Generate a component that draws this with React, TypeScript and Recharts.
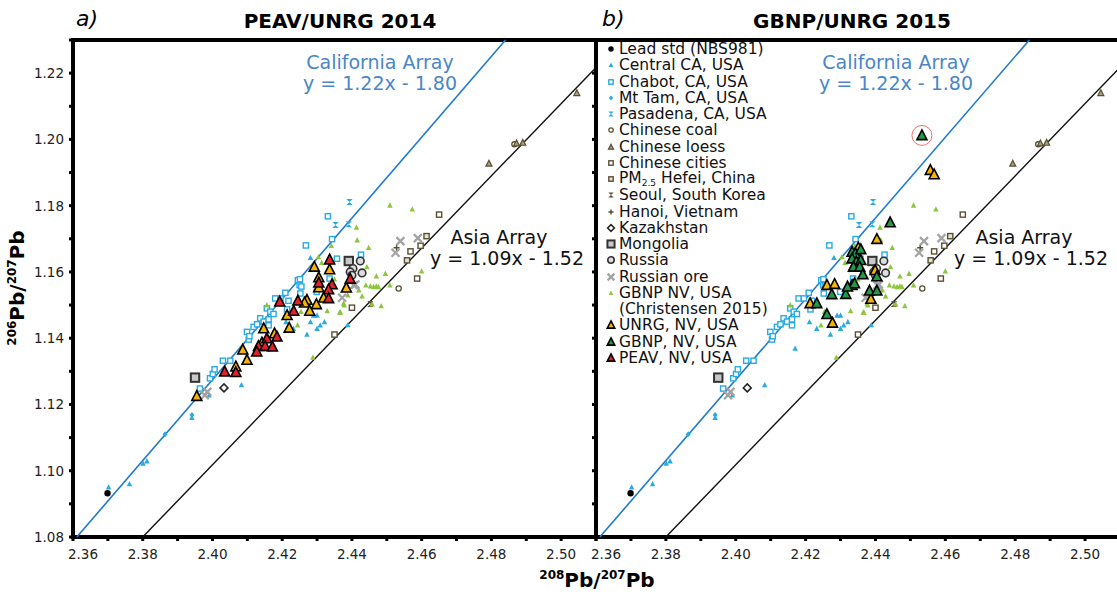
import { ReferenceArea, ReferenceDot, ReferenceLine, Scatter, ScatterChart, XAxis, YAxis } from "recharts";

type Pt = [number, number];

// axis ticks (labels only on the even hundredths)
const X_TICKS = [2.36, 2.37, 2.38, 2.39, 2.4, 2.41, 2.42, 2.43, 2.44, 2.45, 2.46, 2.47, 2.48, 2.49, 2.5, 2.51];
const Y_TICKS = [1.08, 1.09, 1.1, 1.11, 1.12, 1.13, 1.14, 1.15, 1.16, 1.17, 1.18, 1.19, 1.2, 1.21, 1.22, 1.23];

// array lines
const CALIFORNIA = { slope: 1.22, x0: 2.3611 };
const ASIA = { slope: 1.09, x0: 2.38 };

// reference data (same in both panels)
const leadStd: Pt[] = [[2.3699, 1.0932]];
const centralCA: Pt[] = [
  [2.3702, 1.095], [2.3762, 1.096], [2.3801, 1.1022], [2.3812, 1.1029], [2.3941, 1.116], [2.399, 1.1228],
  [2.4083, 1.1259], [2.417, 1.1369], [2.4211, 1.1449], [2.4232, 1.1429], [2.4271, 1.1411], [2.4281, 1.1449],
  [2.429, 1.1469], [2.43, 1.1469], [2.43, 1.1429], [2.4309, 1.1439], [2.4321, 1.1449], [2.4388, 1.144],
  [2.4281, 1.1643]
];
const chabot: Pt[] = [
  [2.3964, 1.1248], [2.3993, 1.1279], [2.4001, 1.1292], [2.4006, 1.1306], [2.403, 1.1332], [2.4051, 1.1332],
  [2.4099, 1.1419], [2.4104, 1.1396], [2.4106, 1.1406], [2.4118, 1.1434], [2.4128, 1.1442], [2.4137, 1.146],
  [2.4147, 1.145], [2.4156, 1.149], [2.4161, 1.1457], [2.4161, 1.1439], [2.4166, 1.148], [2.4175, 1.1473],
  [2.418, 1.152], [2.4195, 1.152], [2.4209, 1.1537], [2.4214, 1.1487], [2.4218, 1.1513], [2.4245, 1.1575],
  [2.425, 1.156], [2.4255, 1.1556], [2.4252, 1.1535], [2.4251, 1.1578], [2.4299, 1.154], [2.4268, 1.168],
  [2.4331, 1.1768], [2.4336, 1.158], [2.4343, 1.1699], [2.4357, 1.164], [2.4426, 1.1652]
];
const mtTam: Pt[] = [[2.3864, 1.111], [2.3941, 1.1168]];
const pasadena: Pt[] = [[2.4393, 1.1811], [2.4353, 1.1742], [2.4391, 1.1744]];
const chineseCoal: Pt[] = [[2.4534, 1.155], [2.4866, 1.1985]];
const chineseLoess: Pt[] = [[2.4793, 1.1927], [2.489, 1.199], [2.4872, 1.1988], [2.5045, 1.214]];
const chineseCities: Pt[] = [[2.465, 1.1773], [2.4597, 1.1679], [2.4568, 1.1662], [2.4587, 1.158], [2.44, 1.1492], [2.435, 1.1411]];
const hefei: Pt[] = [[2.4614, 1.1708], [2.4558, 1.1635]];
const seoul: Pt[] = [[2.4453, 1.1503]];
const hanoi: Pt[] = [[2.4528, 1.1673]];
const kazakhstan: Pt[] = [[2.4033, 1.125]];
const mongolia: Pt[] = [[2.395, 1.1281], [2.4391, 1.1633]];
const russia: Pt[] = [[2.4424, 1.1633], [2.4403, 1.161], [2.4395, 1.16], [2.44, 1.159], [2.4429, 1.1597]];
const russianOre: Pt[] = [
  [2.3985, 1.1238], [2.3978, 1.1228], [2.4539, 1.1693], [2.4525, 1.1658], [2.4589, 1.1702], [2.441, 1.1562],
  [2.4372, 1.1522], [2.4405, 1.156]
];
const gbnpChristensen: Pt[] = [
  [2.4509, 1.1801], [2.4573, 1.1789], [2.4413, 1.1734], [2.4415, 1.1696], [2.4448, 1.1673], [2.4341, 1.1679],
  [2.4443, 1.1615], [2.4496, 1.1595], [2.447, 1.1587], [2.4453, 1.1557], [2.4462, 1.1555], [2.447, 1.1557],
  [2.4476, 1.1555], [2.4509, 1.156], [2.4429, 1.1527], [2.4484, 1.1497], [2.4458, 1.1503], [2.4376, 1.1505],
  [2.4365, 1.1478], [2.4329, 1.1482], [2.46, 1.1602], [2.4288, 1.1342], [2.435, 1.1578], [2.4388, 1.153],
  [2.4378, 1.15], [2.4367, 1.1478], [2.4254, 1.148], [2.4244, 1.1439], [2.4156, 1.15], [2.4304, 1.1645],
  [2.4313, 1.1628], [2.442, 1.1545], [2.444, 1.156]
];

// Nevada samples
const unrg2014: Pt[] = [
  [2.4292, 1.1615], [2.4336, 1.1607], [2.4305, 1.1583], [2.4305, 1.1553], [2.4271, 1.1515], [2.4264, 1.1507],
  [2.4298, 1.1502], [2.4279, 1.1482], [2.4214, 1.1469], [2.422, 1.1431], [2.4147, 1.1429], [2.4178, 1.1414],
  [2.4087, 1.1365], [2.4099, 1.1334], [2.4067, 1.1314], [2.3955, 1.1225], [2.4319, 1.1522], [2.4384, 1.1552],
  [2.4142, 1.1386]
];
const peav2014: Pt[] = [
  [2.4336, 1.1637], [2.4305, 1.1567], [2.4343, 1.1562], [2.4333, 1.1547], [2.4333, 1.152], [2.4193, 1.151],
  [2.4245, 1.1513], [2.4233, 1.1482], [2.4395, 1.1579], [2.4156, 1.1399], [2.4185, 1.1404], [2.4132, 1.1376],
  [2.4127, 1.1359], [2.4151, 1.1376], [2.4172, 1.1374], [2.4035, 1.1299], [2.4067, 1.1297]
];
const unrg2015: Pt[] = [
  [2.4557, 1.1907], [2.4568, 1.1894], [2.4404, 1.1699], [2.4351, 1.1673], [2.4345, 1.165], [2.4399, 1.1605],
  [2.4261, 1.156], [2.4283, 1.1563], [2.4213, 1.1505], [2.4387, 1.1518], [2.4277, 1.1446], [2.434, 1.162]
];
const gbnp2015: Pt[] = [
  [2.4533, 1.2012], [2.4442, 1.1749], [2.4333, 1.166], [2.4342, 1.1655], [2.4358, 1.1668], [2.4333, 1.164],
  [2.4345, 1.163], [2.4358, 1.1635], [2.4337, 1.1615], [2.4355, 1.1615], [2.4364, 1.1592], [2.4404, 1.1586],
  [2.4333, 1.156], [2.434, 1.1565], [2.4275, 1.1532], [2.4315, 1.1533], [2.4383, 1.1543], [2.4404, 1.1543],
  [2.4232, 1.1505], [2.4261, 1.1472], [2.432, 1.1555]
];

const OLIVE = "#5a5035";
const CYAN = "#29abe2";

const background = [
  { kind: "central", name: "Central CA, USA", data: centralCA },
  { kind: "chabot", name: "Chabot, CA, USA", data: chabot },
  { kind: "mttam", name: "Mt Tam, CA, USA", data: mtTam },
  { kind: "pasadena", name: "Pasadena, CA, USA", data: pasadena },
  { kind: "coal", name: "Chinese coal", data: chineseCoal },
  { kind: "loess", name: "Chinese loess", data: chineseLoess },
  { kind: "cities", name: "Chinese cities", data: chineseCities },
  { kind: "hefei", name: "PM2.5 Hefei, China", data: hefei },
  { kind: "seoul", name: "Seoul, South Korea", data: seoul },
  { kind: "hanoi", name: "Hanoi, Vietnam", data: hanoi },
  { kind: "gbnpC", name: "GBNP NV, USA", data: gbnpChristensen },
  { kind: "ore", name: "Russian ore", data: russianOre },
  { kind: "kaz", name: "Kazakhstan", data: kazakhstan },
  { kind: "mongolia", name: "Mongolia", data: mongolia },
  { kind: "russia", name: "Russia", data: russia },
  { kind: "lead", name: "Lead std (NBS981)", data: leadStd }
];

const tri = (cx: number, cy: number, s: number) =>
  `M${cx},${cy - s * 0.55}L${cx + s / 2},${cy + s * 0.42}L${cx - s / 2},${cy + s * 0.42}Z`;

function Marker({ kind, cx, cy, k = 1 }: { kind: string; cx: number; cy: number; k?: number }) {
  switch (kind) {
    case "lead":
      return <circle cx={cx} cy={cy} r={3.2 * k} fill="#000" />;
    case "central":
      return <path d={tri(cx, cy, 5.5 * k)} fill={CYAN} />;
    case "chabot":
      return <rect x={cx - 2.6 * k} y={cy - 2.6 * k} width={5.2 * k} height={5.2 * k} fill="#fff" stroke={CYAN} strokeWidth={1.4} />;
    case "mttam":
      return <path d={`M${cx},${cy - 3 * k}L${cx + 2.5 * k},${cy}L${cx},${cy + 3 * k}L${cx - 2.5 * k},${cy}Z`} fill={CYAN} />;
    case "pasadena":
      return <path d={`M${cx - 3.2 * k},${cy - 3 * k}L${cx + 3.2 * k},${cy - 3 * k}L${cx - 3.2 * k},${cy + 3 * k}L${cx + 3.2 * k},${cy + 3 * k}Z`} fill={CYAN} />;
    case "coal":
      return <circle cx={cx} cy={cy} r={2.6 * k} fill="#fff" stroke={OLIVE} strokeWidth={1.3} />;
    case "loess":
      return <path d={tri(cx, cy, 6 * k)} fill="#a89d7c" stroke={OLIVE} strokeWidth={1.2} />;
    case "cities":
      return <rect x={cx - 2.6 * k} y={cy - 2.6 * k} width={5.2 * k} height={5.2 * k} fill="#fff" stroke={OLIVE} strokeWidth={1.4} />;
    case "hefei":
      return <rect x={cx - 2.6 * k} y={cy - 2.6 * k} width={5.2 * k} height={5.2 * k} fill="#e6e1d2" stroke={OLIVE} strokeWidth={1.4} />;
    case "seoul":
      return <path d={`M${cx - 3.2 * k},${cy - 3 * k}L${cx + 3.2 * k},${cy - 3 * k}L${cx - 3.2 * k},${cy + 3 * k}L${cx + 3.2 * k},${cy + 3 * k}Z`} fill={OLIVE} />;
    case "hanoi":
      return <path d={`M${cx - 3 * k},${cy}H${cx + 3 * k}M${cx},${cy - 3 * k}V${cy + 3 * k}`} stroke={OLIVE} strokeWidth={1.5} />;
    case "kaz":
      return <path d={`M${cx},${cy - 4 * k}L${cx + 4 * k},${cy}L${cx},${cy + 4 * k}L${cx - 4 * k},${cy}Z`} fill="#fff" stroke="#222" strokeWidth={1.5} />;
    case "mongolia":
      return <rect x={cx - 4.2 * k} y={cy - 4.2 * k} width={8.4 * k} height={8.4 * k} fill="#c8c8c8" stroke="#333" strokeWidth={2} />;
    case "russia":
      return <circle cx={cx} cy={cy} r={3.8 * k} fill="#ddd" stroke="#333" strokeWidth={1.6} />;
    case "ore":
      return <path d={`M${cx - 4 * k},${cy - 4 * k}L${cx + 4 * k},${cy + 4 * k}M${cx + 4 * k},${cy - 4 * k}L${cx - 4 * k},${cy + 4 * k}`} stroke="#a3a3a3" strokeWidth={2.2} />;
    case "gbnpC":
      return <path d={tri(cx, cy, 5.5 * k)} fill="#8dc63f" />;
    case "unrg":
      return <path d={tri(cx, cy, 10 * k)} fill="#f7b500" stroke="#000" strokeWidth={1.6} />;
    case "gbnp":
      return <path d={tri(cx, cy, 10 * k)} fill="#1e9a4a" stroke="#000" strokeWidth={1.6} />;
    case "peav":
      return <path d={tri(cx, cy, 10 * k)} fill="#e5202b" stroke="#000" strokeWidth={1.6} />;
    default:
      return <g />;
  }
}

const legendRows: { kind: string; label: React.ReactNode }[] = [
  { kind: "lead", label: "Lead std (NBS981)" },
  { kind: "central", label: "Central CA, USA" },
  { kind: "chabot", label: "Chabot, CA, USA" },
  { kind: "mttam", label: "Mt Tam, CA, USA" },
  { kind: "pasadena", label: "Pasadena, CA, USA" },
  { kind: "coal", label: "Chinese coal" },
  { kind: "loess", label: "Chinese loess" },
  { kind: "cities", label: "Chinese cities" },
  { kind: "hefei", label: <>PM<span style={{ fontSize: 9, position: "relative", top: 3 }}>2.5</span> Hefei, China</> },
  { kind: "seoul", label: "Seoul, South Korea" },
  { kind: "hanoi", label: "Hanoi, Vietnam" },
  { kind: "kaz", label: "Kazakhstan" },
  { kind: "mongolia", label: "Mongolia" },
  { kind: "russia", label: "Russia" },
  { kind: "ore", label: "Russian ore" },
  { kind: "gbnpC", label: "GBNP NV, USA" },
  { kind: "", label: "(Christensen 2015)" },
  { kind: "unrg", label: "UNRG, NV, USA" },
  { kind: "gbnp", label: "GBNP, NV, USA" },
  { kind: "peav", label: "PEAV, NV, USA" }
];

const toXY = (pts: Pt[]) => pts.map(([x, y]) => ({ x, y }));
const isLabelled = (v: number) => Math.round(v * 100) % 2 === 0;

function XTick(props: any) {
  const { x, y, payload } = props;
  const v = payload.value as number;
  const dx = Math.abs(v - 2.36) < 1e-6 ? 10 : 0;
  return (
    <text x={x + dx} y={y} dy="0.71em" textAnchor="middle" fontSize={13.5} fill="#222" fontFamily="DejaVu Sans">
      {isLabelled(v) ? v.toFixed(2) : ""}
    </text>
  );
}

function YTick(props: any) {
  const { x, y, payload } = props;
  const v = payload.value as number;
  return (
    <text x={x} y={y} dy="0.36em" textAnchor="end" fontSize={13.5} fill="#222" fontFamily="DejaVu Sans">
      {isLabelled(v) && v < 1.225 ? v.toFixed(2) : ""}
    </text>
  );
}

function Panel({ left, width, marginLeft, yWidth, showY, nv, circled }: {
  left: number; width: number; marginLeft: number; yWidth: number; showY: boolean;
  nv: { kind: string; data: Pt[] }[]; circled?: Pt;
}) {
  const calTop = CALIFORNIA.x0 + (1.23 - 1.08) / CALIFORNIA.slope;
  const asiaTopY = 1.08 + ASIA.slope * (2.51 - ASIA.x0);
  return (
    <div style={{ position: "absolute", left, top: 0 }}>
      <ScatterChart width={width} height={594} margin={{ top: 40, right: 4, bottom: 27, left: marginLeft }}>
        <XAxis type="number" dataKey="x" domain={[2.36, 2.51]} ticks={X_TICKS} interval={0} allowDataOverflow
          axisLine={false} tickSize={4} tickMargin={8} tickLine={{ stroke: "#000", strokeWidth: 3 }} tick={<XTick />} height={30} />
        <YAxis type="number" dataKey="y" domain={[1.08, 1.23]} ticks={Y_TICKS} interval={0} allowDataOverflow
          axisLine={false} tickSize={4} tickMargin={5} tickLine={{ stroke: "#000", strokeWidth: 3 }}
          tick={showY ? <YTick /> : () => <g />} width={yWidth} />
        <ReferenceLine segment={[{ x: CALIFORNIA.x0, y: 1.08 }, { x: calTop, y: 1.23 }]} stroke="#1f7acb" strokeWidth={1.6} />
        <ReferenceLine segment={[{ x: ASIA.x0, y: 1.08 }, { x: 2.51, y: asiaTopY }]} stroke="#111" strokeWidth={1.4} />
        {background.map((s) => (
          <Scatter key={s.kind} name={s.name} data={toXY(s.data)} isAnimationActive={false}
            shape={(p: any) => <Marker kind={s.kind} cx={p.cx} cy={p.cy} />} />
        ))}
        {nv.map((s) => (
          <Scatter key={s.kind} data={toXY(s.data)} isAnimationActive={false}
            shape={(p: any) => <Marker kind={s.kind} cx={p.cx} cy={p.cy} />} />
        ))}
        {circled && <ReferenceDot x={circled[0]} y={circled[1]} r={10} fill="none" stroke="#f07070" strokeWidth={1} />}
        <ReferenceArea x1={2.36} x2={2.51} y1={1.08} y2={1.23} fill="none" fillOpacity={0} stroke="#000" strokeWidth={4} />
      </ScatterChart>
    </div>
  );
}

const txt: React.CSSProperties = { position: "absolute", whiteSpace: "nowrap", fontFamily: "DejaVu Sans" };

// centre x, top y, colour, text
const notes = [
  { c: 380, t: 52, col: "#4a86c8", s: "California Array" },
  { c: 380, t: 73, col: "#4a86c8", s: "y = 1.22x - 1.80" },
  { c: 896, t: 52, col: "#4a86c8", s: "California Array" },
  { c: 896, t: 73, col: "#4a86c8", s: "y = 1.22x - 1.80" },
  { c: 499, t: 227, col: "#111", s: "Asia Array" },
  { c: 507, t: 248, col: "#111", s: "y = 1.09x - 1.52" },
  { c: 1024, t: 227, col: "#111", s: "Asia Array" },
  { c: 1031, t: 248, col: "#111", s: "y = 1.09x - 1.52" }
];

export default function App() {
  return (
    <div style={{ position: "relative", width: 1117, height: 594, overflow: "hidden", background: "#fff", fontFamily: "DejaVu Sans" }}>
      <style>{"body{margin:0}"}</style>
      <Panel left={0} width={600} marginLeft={13} yWidth={60} showY
        nv={[{ kind: "unrg", data: unrg2014 }, { kind: "peav", data: peav2014 }]} />
      <Panel left={590} width={534} marginLeft={0} yWidth={6} showY={false}
        nv={[{ kind: "unrg", data: unrg2015 }, { kind: "gbnp", data: gbnp2015 }]} circled={gbnp2015[0]} />

      <div style={{ ...txt, left: 76, top: 6, fontSize: 22, fontStyle: "italic" }}>a)</div>
      <div style={{ ...txt, left: 240, top: 9, width: 200, textAlign: "center", fontSize: 20, fontWeight: "bold" }}>PEAV/UNRG 2014</div>
      <div style={{ ...txt, left: 602, top: 6, fontSize: 22, fontStyle: "italic" }}>b)</div>
      <div style={{ ...txt, left: 750, top: 9, width: 204, textAlign: "center", fontSize: 20, fontWeight: "bold" }}>GBNP/UNRG 2015</div>

      {notes.map((n, i) => (
        <div key={i} style={{ ...txt, left: n.c - 100, top: n.t, width: 200, textAlign: "center", color: n.col, fontSize: 19, lineHeight: "20px" }}>
          {n.s}
        </div>
      ))}

      <div style={{ ...txt, left: 604, top: 41, fontSize: 15.5, color: "#111" }}>
        {legendRows.map((r, i) => (
          <div key={i} style={{ height: 16.26, lineHeight: "16.26px", display: "flex", alignItems: "center" }}>
            <svg width={14} height={16} style={{ flex: "none" }}>
              <Marker kind={r.kind} cx={7} cy={8} k={r.kind === "unrg" || r.kind === "gbnp" || r.kind === "peav" ? 0.75 : 0.85} />
            </svg>
            <span style={{ marginLeft: 1 }}>{r.label}</span>
          </div>
        ))}
      </div>

      <div style={{ ...txt, left: 497, top: 568, width: 200, textAlign: "center", fontSize: 20, fontWeight: "bold" }}>
        <sup style={{ fontSize: 12 }}>208</sup>Pb/<sup style={{ fontSize: 12 }}>207</sup>Pb
      </div>
      <div style={{ ...txt, left: -83, top: 276, width: 200, textAlign: "center", fontSize: 20, fontWeight: "bold", transform: "rotate(-90deg)" }}>
        <sup style={{ fontSize: 12 }}>206</sup>Pb/<sup style={{ fontSize: 12 }}>207</sup>Pb
      </div>
    </div>
  );
}
